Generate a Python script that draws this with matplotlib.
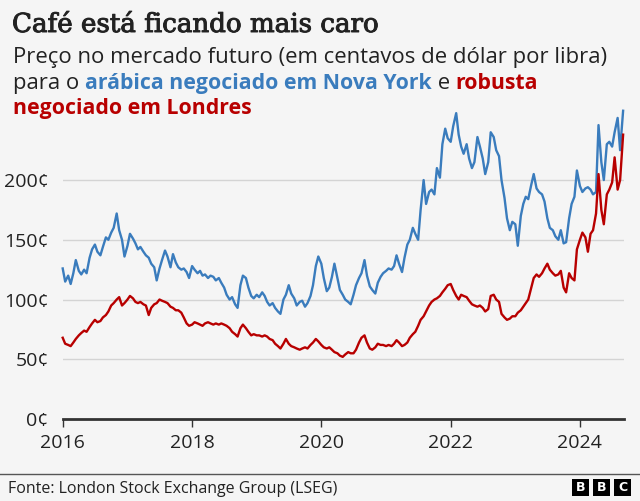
import matplotlib
matplotlib.use("Agg")
import matplotlib.pyplot as plt
import matplotlib.patheffects as pe
import pandas as pd
from matplotlib.patches import Rectangle
from matplotlib.lines import Line2D

# semi-monthly readings, Jan 2016 .. Sep 2024 (US cents per pound)
dates = pd.date_range("2016-01-01", "2024-09-01", freq="SMS")

arabica = [
    126, 115, 120, 113, 122, 133, 124, 121, 125, 122, 135, 142, 146, 140, 137, 144, 152, 150, 156, 160, 172, 158, 150, 136,  # 2016
    145, 155, 151, 147, 142, 144, 140, 137, 135, 130, 127, 116, 126, 133, 141, 136, 127, 138, 131, 127, 125, 126, 123, 118,  # 2017
    128, 125, 122, 124, 120, 121, 118, 120, 119, 116, 118, 114, 110, 104, 100, 102, 96, 93, 112, 120, 118, 110, 103, 101,  # 2018
    104, 102, 106, 103, 98, 95, 97, 93, 90, 88, 100, 104, 112, 105, 101, 95, 98, 99, 94, 97, 103, 112, 128, 136,  # 2019
    130, 118, 107, 110, 119, 130, 118, 108, 104, 100, 98, 96, 104, 112, 118, 122, 133, 120, 111, 108, 105, 114, 119, 122,  # 2020
    124, 126, 125, 128, 137, 130, 123, 135, 146, 150, 160, 155, 150, 175, 200, 180, 190, 192, 188, 210, 202, 230, 243, 235,  # 2021
    232, 245, 256, 238, 228, 222, 230, 218, 210, 215, 236, 228, 218, 205, 215, 240, 236, 225, 220, 200, 185, 168, 158, 165,  # 2022
    163, 145, 170, 180, 186, 184, 196, 205, 193, 190, 188, 182, 168, 160, 158, 153, 150, 158, 147, 148, 168, 180, 186, 208,  # 2023
    195, 190, 193, 194, 192, 188, 190, 246, 215, 200, 230, 232, 228, 240, 252, 225, 258,  # 2024
]

robusta = [
    68, 63, 62, 61, 64, 67, 70, 72, 74, 73, 77, 80, 83, 81, 82, 85, 87, 90, 95, 97, 100, 102, 95, 97,  # 2016
    100, 103, 101, 98, 97, 98, 96, 95, 87, 93, 96, 97, 100, 99, 98, 97, 94, 93, 91, 91, 89, 85, 80, 78,  # 2017
    79, 81, 80, 79, 78, 80, 81, 80, 79, 80, 79, 80, 79, 78, 76, 73, 71, 69, 76, 79, 76, 73, 70, 71,  # 2018
    70, 70, 69, 70, 69, 67, 66, 63, 61, 59, 63, 67, 63, 61, 60, 59, 58, 59, 60, 59, 62, 64, 67, 65,  # 2019
    62, 60, 59, 60, 58, 56, 55, 53, 52, 54, 56, 55, 55, 58, 64, 68, 70, 64, 59, 58, 60, 63, 62, 62,  # 2020
    61, 62, 61, 63, 66, 64, 61, 62, 64, 68, 71, 73, 78, 83, 86, 90, 95, 98, 100, 101, 103, 106, 109, 112,  # 2021
    113, 108, 103, 100, 104, 103, 102, 99, 96, 95, 94, 95, 93, 90, 92, 103, 104, 100, 98, 88, 85, 83, 84, 86,  # 2022
    86, 89, 91, 94, 97, 100, 110, 118, 121, 119, 122, 126, 130, 125, 122, 120, 121, 124, 110, 106, 122, 118, 116, 142,  # 2023
    150, 156, 152, 140, 155, 158, 172, 205, 175, 163, 188, 192, 198, 219, 192, 200, 238,  # 2024
]

y_ticks = [0, 50, 100, 150, 200]
x_years = [2016, 2018, 2020, 2022, 2024]

BG = "#f5f5f5"
BLUE = "#3a7cbd"
RED = "#b80000"
TEXT = "#222222"
SANS = "Open Sans"

W, H = 640, 501
fig = plt.figure(figsize=(W / 100, H / 100), dpi=100, facecolor=BG)


def fx(px):
    return px / W


def fy(py):
    return 1 - py / H


# plot area: x 62.7..624 px, y 100..419 px
ax = fig.add_axes([fx(62.7), fy(419), fx(624) - fx(62.7), (419 - 100) / H])
ax.set_facecolor(BG)
ax.set_xlim(pd.Timestamp("2016-01-01"), pd.Timestamp("2024-09-06"))
ax.set_ylim(0, 267)

for v in y_ticks[1:]:
    ax.axhline(v, color="#d4d4d4", lw=1.0, zorder=1)
ax.axhline(0, color="#333333", lw=2.0, zorder=3, clip_on=False)

ax.plot(dates, arabica, color=BLUE, lw=1.7, zorder=4, clip_on=False)
ax.plot(dates, robusta, color=RED, lw=1.7, zorder=5, clip_on=False)

for s in ax.spines.values():
    s.set_visible(False)
ax.set_yticks(y_ticks)
ax.set_yticklabels([f"{v}¢" for v in y_ticks], fontsize=14, family=SANS, color=TEXT)
ax.tick_params(axis="y", length=0, pad=10)
ax.set_xticks([pd.Timestamp(f"{y}-01-01") for y in x_years])
ax.set_xticklabels([str(y) for y in x_years], fontsize=14, family=SANS, color=TEXT)
ax.tick_params(axis="x", length=6, width=1, color="#333333", pad=5, direction="out")

# title and subtitle
fig.text(fx(12), fy(32), "Café está ficando mais caro", fontsize=18.8,
         family="DejaVu Serif", color=TEXT, va="baseline",
         path_effects=[pe.withStroke(linewidth=0.7, foreground=TEXT)])
fig.text(fx(13), fy(63), "Preço no mercado futuro (em centavos de dólar por libra)",
         fontsize=15.9, family=SANS, color=TEXT, va="baseline")

renderer = fig.canvas.get_renderer()
x_px = 13
for txt, col, wt, fs in [("para o ", TEXT, "normal", 15.9),
                         ("arábica negociado em Nova York", BLUE, "bold", 15.3),
                         (" e ", TEXT, "normal", 15.9),
                         ("robusta", RED, "bold", 15.3)]:
    t = fig.text(fx(x_px), fy(89), txt, fontsize=fs, family=SANS, color=col,
                 fontweight=wt, va="baseline")
    bb = t.get_window_extent(renderer=renderer)
    x_px += bb.width
fig.text(fx(13), fy(114), "negociado em Londres", fontsize=15.3, family=SANS,
         color=RED, fontweight="bold", va="baseline")

# footer
fig.add_artist(Line2D([0, 1], [fy(474), fy(474)], transform=fig.transFigure,
                      color="#555555", lw=1.0))
fig.text(fx(8), fy(493), "Fonte: London Stock Exchange Group (LSEG)", fontsize=11.5,
         family=SANS, color=TEXT, va="baseline")
for i, letter in enumerate("BBC"):
    x0 = 572 + i * 21
    fig.add_artist(Rectangle((fx(x0), fy(496)), fx(17), 17 / H,
                             transform=fig.transFigure, facecolor="#000000",
                             edgecolor="none"))
    fig.text(fx(x0 + 8.5), fy(487.5), letter, fontsize=9, family="DejaVu Sans",
             fontweight="bold", color="white", ha="center", va="center")

fig.savefig("out.png", dpi=100, facecolor=BG)
